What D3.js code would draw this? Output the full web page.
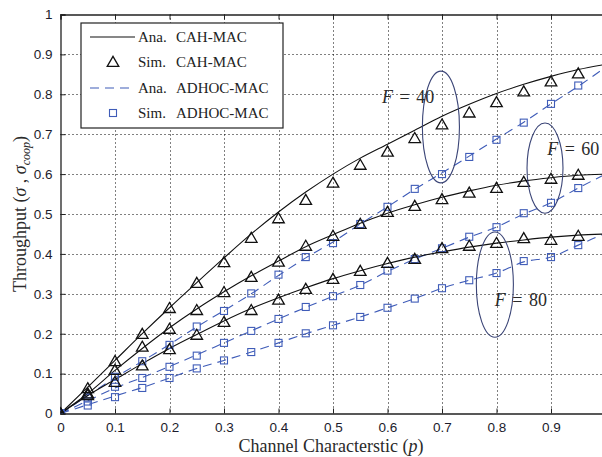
<!DOCTYPE html>
<html>
<head>
<meta charset="utf-8">
<script src="https://cdn.jsdelivr.net/npm/d3@7"></script>
<style>
  body { margin: 0; background: #fff; }
  svg { display: block; }
</style>
</head>
<body>
<div id="chart"></div>
<script>
// channel characteristic p
let p_values = [0, 0.05, 0.1, 0.15, 0.2, 0.25, 0.3, 0.35, 0.4, 0.45, 0.5, 0.55, 0.6, 0.65, 0.7, 0.75, 0.8, 0.85, 0.9, 0.95, 1.0];
let p_sim = p_values.slice(0, 20);

// analytical CAH-MAC
let ana_cah_40 = [0, 0.066, 0.133, 0.2, 0.265, 0.328, 0.39, 0.45, 0.505, 0.555, 0.6, 0.64, 0.675, 0.71, 0.745, 0.775, 0.802, 0.825, 0.845, 0.862, 0.875];
let ana_cah_60 = [0, 0.05, 0.108, 0.163, 0.215, 0.262, 0.305, 0.345, 0.382, 0.418, 0.448, 0.477, 0.502, 0.523, 0.542, 0.558, 0.572, 0.583, 0.591, 0.597, 0.6];
let ana_cah_80 = [0, 0.045, 0.085, 0.125, 0.163, 0.198, 0.232, 0.263, 0.29, 0.315, 0.338, 0.358, 0.376, 0.392, 0.405, 0.417, 0.427, 0.435, 0.442, 0.447, 0.45];

// simulated CAH-MAC
let sim_cah_40 = [0, 0.063, 0.131, 0.199, 0.264, 0.327, 0.379, 0.44, 0.489, 0.535, 0.578, 0.623, 0.656, 0.69, 0.724, 0.754, 0.78, 0.807, 0.832, 0.852];
let sim_cah_60 = [0, 0.05, 0.109, 0.167, 0.212, 0.259, 0.304, 0.342, 0.38, 0.42, 0.445, 0.475, 0.505, 0.52, 0.537, 0.553, 0.565, 0.58, 0.588, 0.598];
let sim_cah_80 = [0, 0.046, 0.079, 0.12, 0.161, 0.197, 0.229, 0.259, 0.285, 0.312, 0.337, 0.357, 0.377, 0.387, 0.414, 0.42, 0.427, 0.439, 0.435, 0.445];

// analytical ADHOC-MAC
let ana_adhoc_40 = [0, 0.045, 0.09, 0.131, 0.173, 0.217, 0.258, 0.3, 0.346, 0.39, 0.43, 0.475, 0.518, 0.562, 0.603, 0.645, 0.688, 0.73, 0.776, 0.82, 0.868];
let ana_adhoc_60 = [0, 0.032, 0.064, 0.09, 0.118, 0.147, 0.177, 0.207, 0.237, 0.266, 0.294, 0.322, 0.356, 0.387, 0.414, 0.442, 0.467, 0.5, 0.528, 0.565, 0.6];
let ana_adhoc_80 = [0, 0.022, 0.044, 0.065, 0.089, 0.113, 0.133, 0.154, 0.177, 0.2, 0.221, 0.242, 0.265, 0.288, 0.314, 0.334, 0.352, 0.38, 0.392, 0.422, 0.452];

// simulated ADHOC-MAC
let sim_adhoc_40 = [0, 0.04, 0.092, 0.131, 0.172, 0.218, 0.257, 0.301, 0.348, 0.392, 0.427, 0.475, 0.518, 0.563, 0.6, 0.643, 0.686, 0.729, 0.776, 0.822];
let sim_adhoc_60 = [0, 0.03, 0.067, 0.089, 0.117, 0.145, 0.177, 0.207, 0.237, 0.267, 0.294, 0.322, 0.358, 0.387, 0.414, 0.443, 0.467, 0.502, 0.528, 0.565];
let sim_adhoc_80 = [0, 0.02, 0.041, 0.064, 0.089, 0.113, 0.133, 0.154, 0.177, 0.201, 0.221, 0.242, 0.265, 0.288, 0.314, 0.334, 0.352, 0.382, 0.392, 0.422];

let x_ticks = [0, 0.1, 0.2, 0.3, 0.4, 0.5, 0.6, 0.7, 0.8, 0.9];
let y_ticks = [0, 0.1, 0.2, 0.3, 0.4, 0.5, 0.6, 0.7, 0.8, 0.9, 1];

let legend_labels = [["Ana.", "CAH-MAC"], ["Sim.", "CAH-MAC"], ["Ana.", "ADHOC-MAC"], ["Sim.", "ADHOC-MAC"]];

// F groups: label, ellipse centre (p, throughput), radii (p, throughput)
let f_labels = ["F = 40", "F = 60", "F = 80"];
let f_ellipses = [
  { cx: 0.698, cy: 0.718, rx: 0.034, ry: 0.14 },
  { cx: 0.889, cy: 0.615, rx: 0.033, ry: 0.113 },
  { cx: 0.797, cy: 0.323, rx: 0.034, ry: 0.132 }
];
let f_label_pos = [[0.59, 0.778], [0.893, 0.648], [0.797, 0.269]];

let width = 602, height = 457;
let blue = "#3f5cb8";
let serif = "'Liberation Serif', 'DejaVu Serif', serif";

let svg = d3.select("#chart").append("svg")
  .attr("width", width)
  .attr("height", height)
  .style("font-family", "'Liberation Sans', Arial, sans-serif");

let x = d3.scaleLinear().domain([0, 1]).range([60.5, 605.5]);
let y = d3.scaleLinear().domain([0, 1]).range([413.5, 14.5]);

svg.append("clipPath").attr("id", "plot-clip")
  .append("rect")
  .attr("x", x(0)).attr("y", y(1))
  .attr("width", x(1) - x(0)).attr("height", y(0) - y(1));

// grid
let grid = svg.append("g").attr("stroke", "#000").attr("stroke-width", 1).attr("stroke-dasharray", "1,3");
grid.selectAll(".gx").data(x_ticks.slice(1)).join("line")
  .attr("x1", d => Math.round(x(d)) + 0.5).attr("x2", d => Math.round(x(d)) + 0.5)
  .attr("y1", y(1)).attr("y2", y(0));
grid.selectAll(".gy").data(y_ticks.slice(1, -1)).join("line")
  .attr("y1", d => Math.round(y(d)) + 0.5).attr("y2", d => Math.round(y(d)) + 0.5)
  .attr("x1", x(0)).attr("x2", x(1));

// axes
let xAxis = svg.append("g").attr("transform", `translate(0,${y(0)})`)
  .call(d3.axisBottom(x).tickValues(x_ticks).tickSize(-5).tickPadding(9).tickFormat(d3.format("")));
let xTop = svg.append("g").attr("transform", `translate(0,${y(1)})`)
  .call(d3.axisTop(x).tickValues(x_ticks).tickSize(-5).tickFormat(""));
let yAxis = svg.append("g").attr("transform", `translate(${x(0)},0)`)
  .call(d3.axisLeft(y).tickValues(y_ticks).tickSize(-5).tickPadding(8).tickFormat(d3.format("")));
[xAxis, xTop, yAxis].forEach(a => {
  a.select(".domain").attr("stroke", "#222").attr("stroke-width", 1.3);
  a.selectAll(".tick line").attr("stroke", "#222");
  a.selectAll("text").attr("font-size", 13.5).attr("fill", "#1c1c2c")
    .attr("font-family", "'Liberation Sans', Arial, sans-serif");
});

let plot = svg.append("g").attr("clip-path", "url(#plot-clip)");

let line = d3.line().x((d, i) => x(p_values[i])).y(d => y(d)).curve(d3.curveMonotoneX);

[ana_adhoc_40, ana_adhoc_60, ana_adhoc_80].forEach(s => {
  plot.append("path").datum(s).attr("d", line)
    .attr("fill", "none").attr("stroke", blue).attr("stroke-width", 1.1)
    .attr("stroke-dasharray", "9,6");
});
[ana_cah_40, ana_cah_60, ana_cah_80].forEach(s => {
  plot.append("path").datum(s).attr("d", line)
    .attr("fill", "none").attr("stroke", "#111").attr("stroke-width", 1.1);
});

let tri = d3.symbol().type(d3.symbolTriangle).size(58);
[sim_adhoc_40, sim_adhoc_60, sim_adhoc_80].forEach(s => {
  plot.append("g").selectAll("rect").data(s).join("rect")
    .attr("x", (d, i) => x(p_sim[i]) - 3.5).attr("y", d => y(d) - 3.5)
    .attr("width", 7).attr("height", 7)
    .attr("fill", "none").attr("stroke", blue).attr("stroke-width", 1.1);
});
[sim_cah_40, sim_cah_60, sim_cah_80].forEach(s => {
  plot.append("g").selectAll("path").data(s).join("path")
    .attr("d", tri)
    .attr("transform", (d, i) => `translate(${x(p_sim[i])},${y(d) + 1})`)
    .attr("fill", "none").attr("stroke", "#111").attr("stroke-width", 1.3);
});

// F ellipses and labels
svg.append("g").selectAll("ellipse").data(f_ellipses).join("ellipse")
  .attr("cx", d => x(d.cx)).attr("cy", d => y(d.cy))
  .attr("rx", d => x(d.rx) - x(0)).attr("ry", d => y(0) - y(d.ry))
  .attr("fill", "none").attr("stroke", "#3b4577").attr("stroke-width", 1.1);

let flab = svg.append("g").selectAll("text").data(f_labels).join("text")
  .attr("x", (d, i) => x(f_label_pos[i][0]))
  .attr("y", (d, i) => y(f_label_pos[i][1]))
  .attr("font-family", serif)
  .attr("font-size", 18).attr("fill", "#2a2a2a");
flab.each(function (d) {
  let parts = d.split(" = ");
  let t = d3.select(this);
  t.append("tspan").attr("font-style", "italic").text(parts[0]);
  t.append("tspan").attr("dx", 2).text(" =");
  t.append("tspan").attr("dx", 2).text(" " + parts[1]);
});

// legend
let lg = svg.append("g").attr("transform", "translate(81,23)");
lg.append("rect").attr("width", 202).attr("height", 105)
  .attr("fill", "#fff").attr("stroke", "#222").attr("stroke-width", 1.2);
let rows = [14, 39, 65, 90];
lg.append("line").attr("x1", 9).attr("x2", 54).attr("y1", rows[0]).attr("y2", rows[0])
  .attr("stroke", "#111").attr("stroke-width", 1.1);
lg.append("path").attr("d", tri).attr("transform", `translate(32,${rows[1] + 1})`)
  .attr("fill", "none").attr("stroke", "#111").attr("stroke-width", 1.3);
lg.append("line").attr("x1", 9).attr("x2", 54).attr("y1", rows[2]).attr("y2", rows[2])
  .attr("stroke", blue).attr("stroke-width", 1.1).attr("stroke-dasharray", "9,6");
lg.append("rect").attr("x", 28.5).attr("y", rows[3] - 3.5).attr("width", 7).attr("height", 7)
  .attr("fill", "none").attr("stroke", blue).attr("stroke-width", 1.1);
let lt = lg.selectAll(".lt").data(legend_labels).join("g");
lt.append("text").attr("x", 57).attr("y", (d, i) => rows[i] + 5)
  .attr("font-family", serif).attr("font-size", 15).attr("fill", "#222")
  .text(d => d[0]);
lt.append("text").attr("x", 95).attr("y", (d, i) => rows[i] + 5)
  .attr("font-family", serif).attr("font-size", 15).attr("fill", "#222")
  .text(d => d[1]);

// axis titles
let xt = svg.append("text").attr("x", 331).attr("y", 452).attr("text-anchor", "middle")
  .attr("font-family", serif)
  .attr("font-size", 18).attr("fill", "#2a2a2a");
xt.append("tspan").text("Channel Characterstic (");
xt.append("tspan").attr("font-style", "italic").text("p");
xt.append("tspan").text(")");

let yt = svg.append("text").attr("transform", "translate(26,214) rotate(-90)").attr("text-anchor", "middle")
  .attr("font-family", serif)
  .attr("font-size", 18).attr("fill", "#2a2a2a");
yt.append("tspan").text("Throughput (");
yt.append("tspan").attr("font-style", "italic").text("σ");
yt.append("tspan").text(" , ");
yt.append("tspan").attr("font-style", "italic").text("σ");
yt.append("tspan").attr("font-style", "italic").attr("font-size", 12).attr("dy", 4).text("coop");
yt.append("tspan").attr("dy", -4).text(")");
</script>
</body>
</html>
